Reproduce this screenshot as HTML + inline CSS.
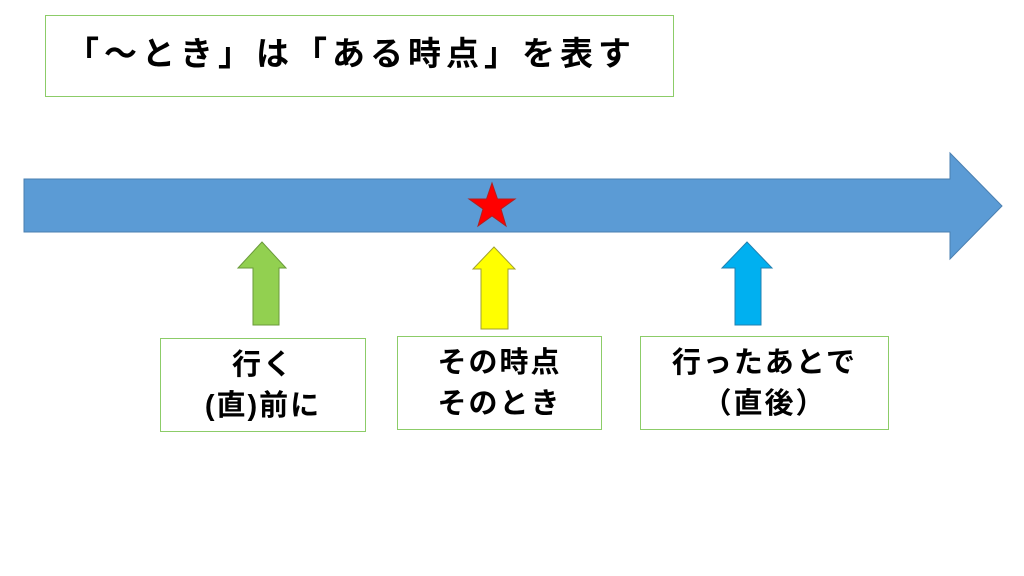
<!DOCTYPE html>
<html><head><meta charset="utf-8"><style>
body{margin:0;width:1024px;height:576px;background:#fff;position:relative;overflow:hidden;font-family:"Liberation Sans","Noto Sans CJK JP",sans-serif;font-weight:bold;color:#000}
.b{position:absolute;border:1px solid #8ccc68;box-sizing:border-box;background:#fff}
.t{position:absolute;text-align:center;font-size:29px;line-height:41px;letter-spacing:2px}
</style></head><body>
<div class="b" style="left:45px;top:15px;width:629px;height:82px"></div>
<div style="position:absolute;left:66px;top:34px;font-size:33px;line-height:40px;letter-spacing:5px;white-space:nowrap">「～とき」は「ある時点」を表す</div>
<svg width="1024" height="576" style="position:absolute;left:0;top:0">
<polygon points="24,179 950,179 950,153 1002,206 950,259 950,232 24,232" fill="#5b9bd5" stroke="#4a7fb0" stroke-width="1"/>
<polygon points="492,183 497.5,199 515,199 501,209 506,226 492,216 478,226 483,209 469,199 486.5,199" fill="#ff0000" stroke="#b02020" stroke-width="1"/>
<polygon points="262,242 286,268 279,268 279,325 253,325 253,268 238,268" fill="#92d050" stroke="#6a9a3a" stroke-width="1"/>
<polygon points="494,247 515,269 508,269 508,329 481,329 481,269 473,269" fill="#ffff00" stroke="#a0a030" stroke-width="1"/>
<polygon points="747,242 772,268 761,268 761,325 735,325 735,268 722,268" fill="#00b0f0" stroke="#2080b0" stroke-width="1"/>
</svg>
<div class="b" style="left:160px;top:338px;width:206px;height:94px"></div>
<div class="t" style="left:160px;top:345px;width:206px">行く<br>(直)前に</div>
<div class="b" style="left:397px;top:336px;width:205px;height:94px"></div>
<div class="t" style="left:397px;top:343px;width:205px">その時点<br>そのとき</div>
<div class="b" style="left:640px;top:336px;width:249px;height:94px"></div>
<div class="t" style="left:640px;top:343px;width:249px">行ったあとで<br>（直後）</div>
</body></html>
